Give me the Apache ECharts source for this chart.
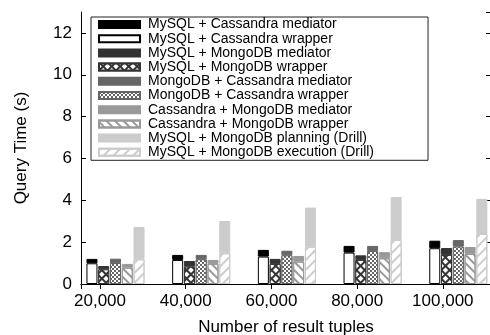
<!DOCTYPE html>
<html>
<head>
<meta charset="utf-8">
<script src="https://cdn.jsdelivr.net/npm/echarts@6/dist/echarts.min.js"></script>
<style>
html, body { margin: 0; padding: 0; background: #fff; }
#chart { width: 490px; height: 335px; }
</style>
</head>
<body>
<div id="chart"></div>
<script>
var categories = ['20,000', '40,000', '60,000', '80,000', '100,000'];

// lower part of every bar (wrapper / execution) and the part stacked on it (mediator / planning)
var mysqlCasWrapper = [0.99, 1.15, 1.31, 1.50, 1.71];
var mysqlCasMediator = [0.21, 0.24, 0.32, 0.32, 0.36];
var mysqlMongoWrapper = [0.70, 0.83, 0.96, 1.15, 1.39];
var mysqlMongoMediator = [0.16, 0.27, 0.24, 0.22, 0.33];
var mongoCasWrapper = [1.00, 1.18, 1.37, 1.58, 1.79];
var mongoCasMediator = [0.21, 0.21, 0.22, 0.24, 0.31];
var casMongoWrapper = [0.78, 0.96, 1.07, 1.23, 1.44];
var casMongoMediator = [0.18, 0.19, 0.27, 0.29, 0.33];
var drillExecution = [1.18, 1.47, 1.78, 2.10, 2.39];
var drillPlanning = [1.55, 1.54, 1.87, 2.06, 1.68];

var legendNames = [
  'MySQL + Cassandra mediator',
  'MySQL + Cassandra wrapper',
  'MySQL + MongoDB mediator',
  'MySQL + MongoDB wrapper',
  'MongoDB + Cassandra mediator',
  'MongoDB + Cassandra wrapper',
  'Cassandra + MongoDB mediator',
  'Cassandra + MongoDB wrapper',
  'MySQL + MongoDB planning (Drill)',
  'MySQL + MongoDB execution (Drill)'
];

var font = 'Liberation Sans';

function bar(name, stack, data, fill, border, decal) {
  var style = { color: fill, borderColor: border, borderWidth: 1 };
  if (decal) style.decal = decal;
  return {
    name: name,
    type: 'bar',
    stack: stack,
    data: data,
    xAxisIndex: 0,
    yAxisIndex: 0,
    barWidth: 11,
    barGap: '7%',
    itemStyle: style,
    emphasis: { disabled: true }
  };
}

var crossHatch = { symbol: 'rect', color: '#fff', dashArrayX: [4, 1.5], dashArrayY: [4, 1.5], rotation: Math.PI / 4, symbolSize: 1 };
var checker = { symbol: 'rect', color: '#fff', dashArrayX: [[2, 2], [0, 2, 2, 0]], dashArrayY: [2, 0], rotation: 0, symbolSize: 1 };
var backHatch = { symbol: 'rect', color: '#999', dashArrayX: [1, 0], dashArrayY: [1.5, 4], rotation: Math.PI / 4, symbolSize: 1 };
var fwdHatch = { symbol: 'rect', color: '#ccc', dashArrayX: [1, 0], dashArrayY: [1.5, 5], rotation: -Math.PI / 4, symbolSize: 1 };

var myChart = echarts.init(document.getElementById('chart'));

var frameAxis = {
  gridIndex: 1,
  type: 'value',
  min: 0.778,
  max: 5.562,
  minInterval: 1,
  maxInterval: 1,
  axisLine: { show: true, lineStyle: { color: '#000', width: 1 } },
  axisTick: { show: true, inside: true, length: 5, lineStyle: { color: '#000' } },
  splitLine: { show: false }
};

var option = {
  animation: false,
  backgroundColor: '#fff',
  textStyle: { fontFamily: font },
  legend: {
    data: legendNames,
    orient: 'vertical',
    left: 91,
    top: 17,
    // gnuplot's key box is much wider than its text
    padding: [0.5, 54, 1, 7],
    itemGap: 0.2,
    itemWidth: 41,
    itemHeight: 7,
    selectedMode: false,
    icon: 'rect',
    borderColor: '#222',
    borderWidth: 1,
    backgroundColor: '#fff',
    textStyle: { fontFamily: font, fontSize: 14, lineHeight: 14, color: '#000', padding: [0, 0, 0, 3] }
  },
  grid: [
    { left: 72.65, width: 428.5, top: 12, bottom: 51, outerBoundsMode: 'none' },
    { left: 81, right: -1, top: 12, bottom: 51, outerBoundsMode: 'none' }
  ],
  xAxis: [
    { gridIndex: 0, type: 'category', data: categories, show: false },
    Object.assign({}, frameAxis, {
      position: 'bottom',
      name: 'Number of result tuples',
      nameLocation: 'middle',
      nameGap: 35,
      nameTextStyle: { fontFamily: font, fontSize: 17, color: '#000' },
      axisLabel: {
        margin: 9,
        fontFamily: font,
        fontSize: 17,
        color: '#000',
        showMinLabel: false,
        showMaxLabel: false,
        formatter: function (v) {
          var i = Math.round(v);
          if (Math.abs(v - i) > 1e-6 || i < 1 || i > categories.length) return '';
          return categories[i - 1];
        }
      }
    }),
    Object.assign({}, frameAxis, { position: 'top', axisLabel: { show: false } })
  ],
  yAxis: [
    { gridIndex: 0, type: 'value', min: 0, max: 13, show: false },
    {
      gridIndex: 1,
      type: 'value',
      position: 'left',
      min: 0,
      max: 13,
      interval: 2,
      name: 'Query Time (s)',
      nameLocation: 'middle',
      nameGap: 51,
      nameTextStyle: { fontFamily: font, fontSize: 17, color: '#000' },
      axisLine: { show: true, lineStyle: { color: '#000', width: 1 } },
      axisTick: { show: true, inside: true, length: 5, lineStyle: { color: '#000' } },
      axisLabel: {
        margin: 9, fontFamily: font, fontSize: 17, color: '#000', showMaxLabel: false,
        formatter: function (v) { return v % 2 === 0 ? String(v) : ''; }
      },
      splitLine: { show: false }
    },
    {
      gridIndex: 1,
      type: 'value',
      position: 'right',
      min: 0,
      max: 13,
      interval: 2,
      axisLine: { show: true, lineStyle: { color: '#000', width: 1 } },
      axisTick: { show: true, inside: true, length: 5, lineStyle: { color: '#000' } },
      axisLabel: { show: false },
      splitLine: { show: false }
    }
  ],
  series: [
    bar(legendNames[1], 'a', mysqlCasWrapper, '#fff', '#000'),
    bar(legendNames[0], 'a', mysqlCasMediator, '#000', '#000'),
    bar(legendNames[3], 'b', mysqlMongoWrapper, '#333', '#333', crossHatch),
    bar(legendNames[2], 'b', mysqlMongoMediator, '#333', '#333'),
    bar(legendNames[5], 'c', mongoCasWrapper, '#666', '#666', checker),
    bar(legendNames[4], 'c', mongoCasMediator, '#666', '#666'),
    bar(legendNames[7], 'd', casMongoWrapper, '#fff', '#999', backHatch),
    bar(legendNames[6], 'd', casMongoMediator, '#999', '#999'),
    bar(legendNames[9], 'e', drillExecution, '#fff', '#ccc', fwdHatch),
    bar(legendNames[8], 'e', drillPlanning, '#ccc', '#ccc')
  ]
};

myChart.setOption(option);
</script>
</body>
</html>
